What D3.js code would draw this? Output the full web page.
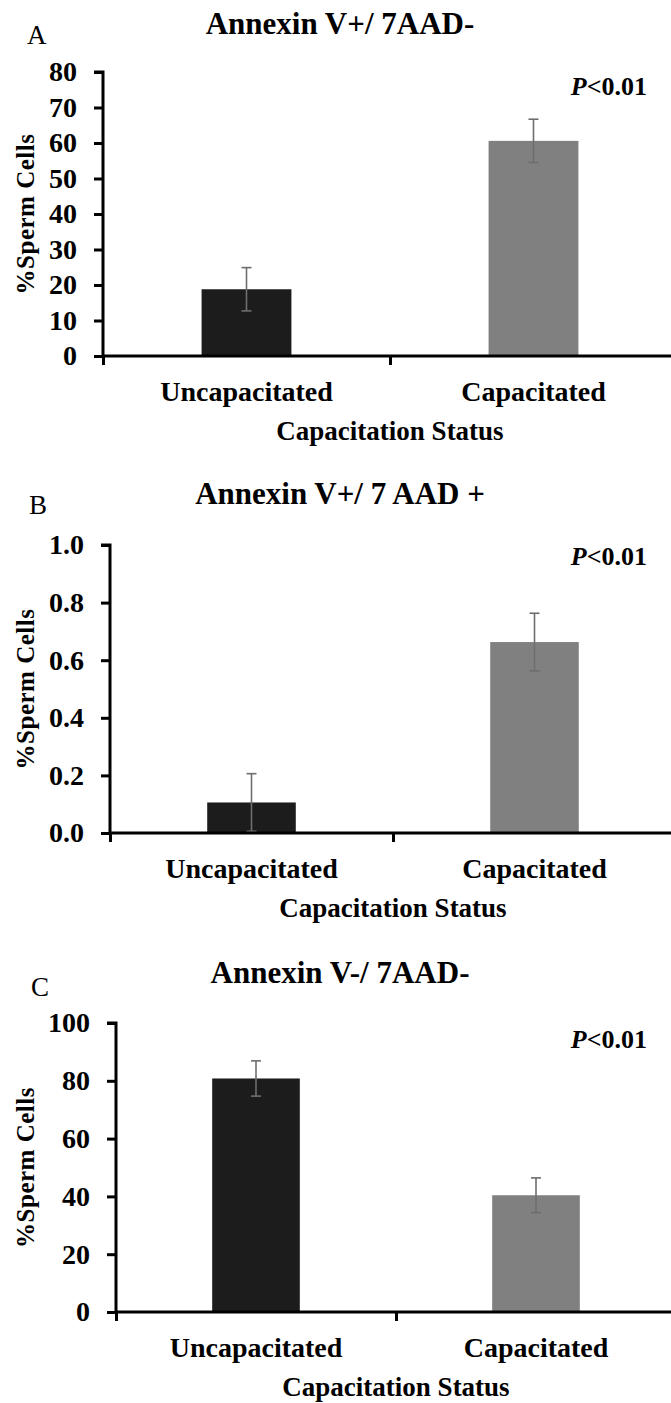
<!DOCTYPE html>
<html lang="en">
<head>
<meta charset="utf-8">
<title>Annexin V / 7AAD</title>
<script src="https://cdn.jsdelivr.net/npm/d3@7"></script>
<style>
  body { margin: 0; background: #fff; }
  text { font-family: "Liberation Serif", "Times New Roman", serif; fill: #000; }
</style>
</head>
<body>
<script>
// data
var categories = ["Uncapacitated", "Capacitated"];
var panelLetters = ["A", "B", "C"];
var panelTitles = ["Annexin V+/ 7AAD-", "Annexin V+/ 7 AAD +", "Annexin V-/ 7AAD-"];
var meansA = [18.8, 60.6], errA = [6.1, 6.1];
var meansB = [0.106, 0.663], errB = [0.1, 0.1];
var meansC = [80.8, 40.4], errC = [6.1, 6.0];
var ticksA = [0, 10, 20, 30, 40, 50, 60, 70, 80];
var ticksB = [0, 0.2, 0.4, 0.6, 0.8, 1.0];
var ticksC = [0, 20, 40, 60, 80, 100];
var yLabel = "%Sperm Cells";
var xLabel = "Capacitation Status";
var pText = "<0.01";

var colors = ["#1c1c1c", "#808080"];

var panels = [
  { means: meansA, errs: errA, ticks: ticksA, fmt: d3.format("d"),
    yTop: 72, yZero: 356, x0: 103, band: 287, titleY: 34, letterX: 27, letterY: 44, pY: 95 },
  { means: meansB, errs: errB, ticks: ticksB, fmt: d3.format(".1f"),
    yTop: 545, yZero: 833, x0: 110, band: 283, titleY: 504, letterX: 29, letterY: 514, pY: 565 },
  { means: meansC, errs: errC, ticks: ticksC, fmt: d3.format("d"),
    yTop: 1023, yZero: 1312, x0: 116, band: 280, titleY: 983, letterX: 31, letterY: 996, pY: 1048 }
];

var W = 671, H = 1403;

var svg = d3.select("body").append("svg")
  .attr("width", W)
  .attr("height", H);

panels.forEach(function(p, i) {
  var g = svg.append("g");

  var y = d3.scaleLinear()
    .domain([0, d3.max(p.ticks)])
    .range([p.yZero, p.yTop]);

  var x = d3.scaleBand()
    .domain(categories)
    .range([p.x0, p.x0 + 2 * p.band]);

  var xEdge = d3.scaleLinear()
    .domain([0, categories.length])
    .range([p.x0, p.x0 + 2 * p.band]);

  var barW = x.bandwidth() * 0.313;

  // bars
  g.selectAll("rect.bar")
    .data(p.means)
    .enter().append("rect")
    .attr("class", "bar")
    .attr("x", function(d, j) { return x(categories[j]) + x.bandwidth() / 2 - barW / 2; })
    .attr("y", function(d) { return y(d); })
    .attr("width", barW)
    .attr("height", function(d) { return p.yZero - y(d); })
    .attr("fill", function(d, j) { return colors[j]; });

  // error bars
  var eb = g.selectAll("g.err")
    .data(p.means)
    .enter().append("g")
    .attr("class", "err")
    .attr("stroke", "#6e6e6e")
    .attr("stroke-width", 1.6);
  eb.append("line")
    .attr("x1", function(d, j) { return x(categories[j]) + x.bandwidth() / 2; })
    .attr("x2", function(d, j) { return x(categories[j]) + x.bandwidth() / 2; })
    .attr("y1", function(d, j) { return y(d - p.errs[j]); })
    .attr("y2", function(d, j) { return y(d + p.errs[j]); });
  [-1, 1].forEach(function(s) {
    eb.append("line")
      .attr("x1", function(d, j) { return x(categories[j]) + x.bandwidth() / 2 - 5; })
      .attr("x2", function(d, j) { return x(categories[j]) + x.bandwidth() / 2 + 5; })
      .attr("y1", function(d, j) { return y(d + s * p.errs[j]); })
      .attr("y2", function(d, j) { return y(d + s * p.errs[j]); });
  });

  // y axis
  var yAxis = g.append("g")
    .attr("transform", "translate(" + p.x0 + ",0)")
    .call(d3.axisLeft(y).tickValues(p.ticks).tickFormat(p.fmt).tickSize(9).tickPadding(17));
  yAxis.select(".domain").attr("d", "M-9," + p.yTop + "H0V" + p.yZero).attr("stroke-width", 3);
  yAxis.selectAll(".tick line").attr("stroke-width", 3);
  yAxis.selectAll(".tick text")
    .style("font-size", "28px")
    .style("font-weight", "bold");

  // x axis
  var xAxis = g.append("g")
    .attr("transform", "translate(0," + p.yZero + ")")
    .call(d3.axisBottom(xEdge).tickValues([0, 1, 2]).tickFormat("").tickSize(9));
  xAxis.select(".domain").attr("d", "M" + p.x0 + ",0H" + (p.x0 + 2 * p.band)).attr("stroke-width", 3);
  xAxis.selectAll(".tick line").attr("stroke-width", 3);

  // category labels
  g.selectAll("text.cat")
    .data(categories)
    .enter().append("text")
    .attr("class", "cat")
    .attr("x", function(d) { return x(d) + x.bandwidth() / 2; })
    .attr("y", p.yZero + 45)
    .attr("text-anchor", "middle")
    .style("font-size", "28px")
    .style("font-weight", "bold")
    .text(function(d) { return d; });

  g.append("text")
    .attr("x", xEdge(1))
    .attr("y", p.yZero + 84)
    .attr("text-anchor", "middle")
    .style("font-size", "27px")
    .style("font-weight", "bold")
    .text(xLabel);

  // y label
  g.append("text")
    .attr("transform", "translate(25," + (p.yTop + p.yZero) / 2 + ") rotate(-90)")
    .attr("text-anchor", "middle")
    .attr("dominant-baseline", "central")
    .style("font-size", "25px")
    .style("font-weight", "bold")
    .style("letter-spacing", "0.5px")
    .text(yLabel);

  // title
  g.append("text")
    .attr("x", 340)
    .attr("y", p.titleY)
    .attr("text-anchor", "middle")
    .style("font-size", "31px")
    .style("font-weight", "bold")
    .text(panelTitles[i]);

  // panel letter
  g.append("text")
    .attr("x", p.letterX)
    .attr("y", p.letterY)
    .style("font-size", "27px")
    .text(panelLetters[i]);

  // p value
  var pt = g.append("text")
    .attr("x", 647)
    .attr("y", p.pY)
    .attr("text-anchor", "end")
    .style("font-size", "26px")
    .style("font-weight", "bold");
  pt.append("tspan").style("font-style", "italic").text("P");
  pt.append("tspan").text(pText);
});
</script>
</body>
</html>
